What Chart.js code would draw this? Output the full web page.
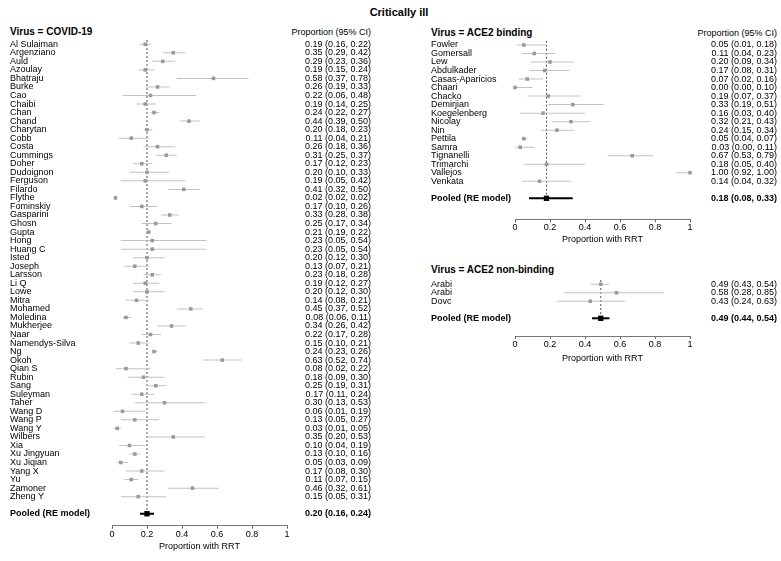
<!DOCTYPE html>
<html lang="en">
<head>
<meta charset="UTF-8">
<title>Critically ill - Proportion with RRT</title>
<style>
  body { margin: 0; background: #fff; }
  #wrap { position: relative; width: 781px; height: 561px; font-family: 'Liberation Sans', Arial, sans-serif; color: #000; }
  .lbl { position: absolute; white-space: nowrap; line-height: 12px; font-size: 9px; }
  .head { font-weight: bold; font-size: 10px; }
  canvas { position: absolute; }
</style>
</head>
<body>
<div id="wrap">
  <div class="lbl" style="left:299px;width:200px;text-align:center;top:6px;font-size:11px;font-weight:bold;">Critically ill</div>

  <div class="lbl head" style="left:10px;top:26px;">Virus = COVID-19</div>
  <div class="lbl" style="right:410px;top:26px;">Proportion (95% CI)</div>

  <div class="lbl head" style="left:431px;top:27px;">Virus = ACE2 binding</div>
  <div class="lbl" style="right:4px;top:27px;">Proportion (95% CI)</div>

  <div class="lbl head" style="left:431px;top:264px;">Virus = ACE2 non-binding</div>

  <canvas id="covid" width="390" height="561" style="left:0;top:0"></canvas>
  <canvas id="ace2b" width="391" height="250" style="left:390px;top:0"></canvas>
  <canvas id="ace2nb" width="391" height="120" style="left:390px;top:250px"></canvas>
</div>

<script src="https://cdn.jsdelivr.net/npm/chart.js"></script>
<script>
// COVID-19 studies
const covidStudies = ['Al Sulaiman', 'Argenziano', 'Auld', 'Azoulay', 'Bhatraju', 'Burke', 'Cao', 'Chaibi', 'Chan', 'Chand',
    'Charytan', 'Cobb', 'Costa', 'Cummings', 'Doher', 'Dudoignon', 'Ferguson', 'Filardo', 'Flythe', 'Fominskiy',
    'Gasparini', 'Ghosn', 'Gupta', 'Hong', 'Huang C', 'Isted', 'Joseph', 'Larsson', 'Li Q', 'Lowe',
    'Mitra', 'Mohamed', 'Moledina', 'Mukherjee', 'Naar', 'Ñamendys-Silva', 'Ng', 'Okoh', 'Qian S', 'Rubin',
    'Sang', 'Suleyman', 'Taher', 'Wang D', 'Wang P', 'Wang Y', 'Wilbers', 'Xia', 'Xu Jingyuan', 'Xu Jiqian',
    'Yang X', 'Yu', 'Zamoner', 'Zheng Y'];
const covidEst = [0.19, 0.35, 0.29, 0.19, 0.58, 0.26, 0.22, 0.19, 0.24, 0.44,
    0.20, 0.11, 0.26, 0.31, 0.17, 0.20, 0.19, 0.41, 0.02, 0.17,
    0.33, 0.25, 0.21, 0.23, 0.23, 0.20, 0.13, 0.23, 0.19, 0.20,
    0.14, 0.45, 0.08, 0.34, 0.22, 0.15, 0.24, 0.63, 0.08, 0.18,
    0.25, 0.17, 0.30, 0.06, 0.13, 0.03, 0.35, 0.10, 0.13, 0.05,
    0.17, 0.11, 0.46, 0.15];
const covidLow = [0.16, 0.29, 0.23, 0.15, 0.37, 0.19, 0.06, 0.14, 0.22, 0.39,
    0.18, 0.04, 0.18, 0.25, 0.12, 0.10, 0.05, 0.32, 0.02, 0.10,
    0.28, 0.17, 0.19, 0.05, 0.05, 0.12, 0.07, 0.18, 0.12, 0.12,
    0.08, 0.37, 0.06, 0.26, 0.17, 0.10, 0.23, 0.52, 0.02, 0.09,
    0.19, 0.11, 0.13, 0.01, 0.05, 0.01, 0.20, 0.04, 0.10, 0.03,
    0.08, 0.07, 0.32, 0.05];
const covidHigh = [0.22, 0.42, 0.36, 0.24, 0.78, 0.33, 0.48, 0.25, 0.27, 0.50,
    0.23, 0.21, 0.36, 0.37, 0.23, 0.33, 0.42, 0.50, 0.02, 0.26,
    0.38, 0.34, 0.22, 0.54, 0.54, 0.30, 0.21, 0.28, 0.27, 0.30,
    0.21, 0.52, 0.11, 0.42, 0.28, 0.21, 0.26, 0.74, 0.22, 0.30,
    0.31, 0.24, 0.53, 0.19, 0.27, 0.05, 0.53, 0.19, 0.16, 0.09,
    0.30, 0.15, 0.61, 0.31];
const covidPooled = [0.20, 0.16, 0.24];

// ACE2 binding viruses
const bindStudies = ['Fowler', 'Gomersall', 'Lew', 'Abdulkader', 'Casas-Aparicios', 'Chaari', 'Chacko', 'Demirjian',
    'Koegelenberg', 'Nicolay', 'Nin', 'Pettila', 'Samra', 'Tignanelli', 'Trimarchi', 'Vallejos', 'Venkata'];
const bindEst = [0.05, 0.11, 0.20, 0.17, 0.07, 0.00, 0.19, 0.33, 0.16, 0.32, 0.24, 0.05, 0.03, 0.67, 0.18, 1.00, 0.14];
const bindLow = [0.01, 0.04, 0.09, 0.08, 0.02, 0.00, 0.07, 0.19, 0.03, 0.21, 0.15, 0.04, 0.00, 0.53, 0.05, 0.92, 0.04];
const bindHigh = [0.18, 0.23, 0.34, 0.31, 0.16, 0.10, 0.37, 0.51, 0.40, 0.43, 0.34, 0.07, 0.11, 0.79, 0.40, 1.00, 0.32];
const bindPooled = [0.18, 0.08, 0.33];

// ACE2 non-binding viruses
const nonBindStudies = ['Arabi', 'Arabi', 'Dovc'];
const nonBindEst = [0.49, 0.58, 0.43];
const nonBindLow = [0.43, 0.28, 0.24];
const nonBindHigh = [0.54, 0.85, 0.63];
const nonBindPooled = [0.49, 0.44, 0.54];

const FONT = "'Liberation Sans', Arial, sans-serif";

function ciText(e, l, h) {
    return e.toFixed(2) + ' (' + l.toFixed(2) + ', ' + h.toFixed(2) + ')';
}

// one forest panel: rows of studies, a gap row, then the pooled row
function forestPanel(id, names, est, lo, hi, pooled, g) {
    const n = names.length;
    const pIdx = n + 1;
    const rows = names.map((_, i) => i).concat([pIdx]);
    const leftText = {}, rightText = {};
    names.forEach((s, i) => {
        leftText[i] = s;
        rightText[i] = ciText(est[i], lo[i], hi[i]);
    });
    leftText[pIdx] = 'Pooled (RE model)';
    rightText[pIdx] = ciText(pooled[0], pooled[1], pooled[2]);

    const rowTicks = s => { s.ticks = rows.map(v => ({ value: v })); };
    const rowFont = c => ({ family: FONT, size: 9, weight: (c.tick && c.tick.value === pIdx) ? 'bold' : 'normal' });

    const rowAxis = (pos, texts, w) => ({
        type: 'linear', position: pos, reverse: true, min: -0.5, max: g.yMax, offset: false,
        grid: { display: false, offset: false }, border: { display: false },
        afterBuildTicks: rowTicks,
        afterFit: s => { s.width = w; },
        ticks: { autoSkip: false, padding: 0, crossAlign: 'far', color: '#000', font: rowFont, callback: v => texts[v] }
    });

    new Chart(document.getElementById(id), {
        type: 'bar',
        data: {
            datasets: [
                {
                    type: 'scatter', showLine: true, order: 4,
                    data: [{ x: pooled[0], y: -0.5 }, { x: pooled[0], y: pIdx }],
                    borderColor: '#555', borderWidth: 1, borderDash: [2, 2], pointRadius: 0
                },
                {
                    type: 'bar', order: 3, grouped: false, barThickness: 1, inflateAmount: 0,
                    data: names.map((_, i) => ({ y: i, x: [lo[i], hi[i]] })),
                    backgroundColor: '#c2c2c2'
                },
                {
                    type: 'bar', order: 2, grouped: false, barThickness: 2, inflateAmount: 0,
                    data: [{ y: pIdx, x: [pooled[1], pooled[2]] }],
                    backgroundColor: '#000'
                },
                {
                    type: 'scatter', order: 1, clip: false,
                    data: names.map((_, i) => ({ x: est[i], y: i })),
                    pointStyle: 'rect', pointRadius: 2.5, pointBorderWidth: 0, pointBackgroundColor: '#999'
                },
                {
                    type: 'scatter', order: 0, clip: false,
                    data: [{ x: pooled[0], y: pIdx }],
                    pointStyle: 'rect', pointRadius: 3.8, pointBorderWidth: 0, pointBackgroundColor: '#000'
                }
            ]
        },
        options: {
            indexAxis: 'y',
            responsive: false,
            animation: false,
            devicePixelRatio: 1,
            layout: { padding: { left: g.pl, right: g.pr, top: g.pt, bottom: 0 } },
            plugins: { legend: { display: false }, tooltip: { enabled: false } },
            scales: {
                x: {
                    type: 'linear', min: 0, max: 1, offset: false, position: 'bottom',
                    grid: { display: true, drawOnChartArea: false, drawTicks: true, tickLength: 3, color: '#666', offset: false },
                    border: { display: true, color: '#777', width: 1 },
                    afterFit: s => { s.height = g.xh; },
                    ticks: {
                        stepSize: 0.2, padding: 0, maxRotation: 0, color: '#000', font: { family: FONT, size: 9 },
                        callback: v => String(+v.toFixed(1))
                    },
                    title: {
                        display: true, text: 'Proportion with RRT', color: '#000',
                        font: { family: FONT, size: 9 }, padding: { top: 0, bottom: g.tb }
                    }
                },
                y: rowAxis('left', leftText, g.yw),
                y2: rowAxis('right', rightText, g.y2w)
            }
        }
    });
}

forestPanel('covid', covidStudies, covidEst, covidLow, covidHigh, covidPooled,
    { pl: 10, pr: 19, pt: 40, yw: 102, y2w: 84, xh: 35.3, tb: 8.6, yMax: 56.4 });
forestPanel('ace2b', bindStudies, bindEst, bindLow, bindHigh, bindPooled,
    { pl: 41, pr: 4, pt: 40.7, yw: 84, y2w: 87, xh: 30.7, tb: 4.6, yMax: 20.46 });
forestPanel('ace2nb', nonBindStudies, nonBindEst, nonBindLow, nonBindHigh, nonBindPooled,
    { pl: 41, pr: 4, pt: 30, yw: 84, y2w: 87, xh: 34, tb: 5.6, yMax: 6.08 });
</script>
</body>
</html>
